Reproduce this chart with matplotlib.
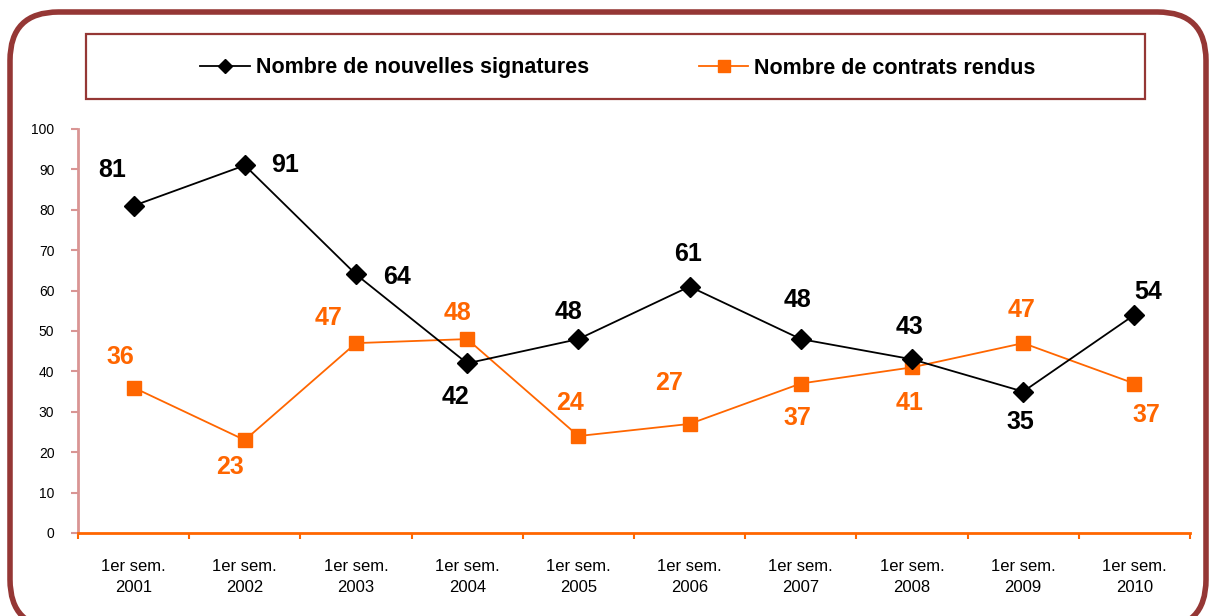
import matplotlib.pyplot as plt
import matplotlib.patches as patches
from matplotlib.lines import Line2D
import numpy as np

plt.rcParams['font.family'] = ['Liberation Sans', 'DejaVu Sans']

years = ['2001', '2002', '2003', '2004', '2005', '2006', '2007', '2008', '2009', '2010']
labels = ['1er sem.\n' + y for y in years]
signatures = [81, 91, 64, 42, 48, 61, 48, 43, 35, 54]
contrats = [36, 23, 47, 48, 24, 27, 37, 41, 47, 37]

# label offsets in pixels (dx, dy) relative to each point
sig_off = [(-21, 36), (40, 0), (41, -3), (-12, -34), (-10, 27),
           (-2, 33), (-3, 39), (-2, 32), (-3, -30), (14, 23)]
con_off = [(-13, 31), (-15, -27), (-27, 25), (-10, 26), (-8, 33),
           (-21, 41), (-3, -34), (-2, -36), (-2, 33), (12, -31)]

black = '#000000'
orange = '#FF6600'
frame_red = '#953735'

fig = plt.figure(figsize=(12.1, 6.16), dpi=100)
W, H = 1210, 616

# outer rounded frame
frame = patches.FancyBboxPatch((10 / W, -12 / H), 1196 / W, 616 / H,
                               boxstyle='round,pad=0,rounding_size=0.04',
                               transform=fig.transFigure, fill=False,
                               edgecolor=frame_red, lw=4, mutation_aspect=W / H)
fig.patches.append(frame)

# legend box
lbox = patches.Rectangle((86 / W, 1 - 99 / H), (1145 - 86) / W, 65 / H,
                         transform=fig.transFigure, fill=False,
                         edgecolor=frame_red, lw=1.6)
fig.patches.append(lbox)

ax = fig.add_axes([78 / W, 1 - 533 / H, (1190 - 78) / W, (533 - 129) / H])
x = np.arange(len(years))
ax.plot(x, signatures, color=black, lw=1.3, marker='D', ms=10, zorder=3)
ax.plot(x, contrats, color=orange, lw=1.3, marker='s', ms=10, zorder=2)

for i, v in enumerate(signatures):
    ax.annotate(str(v), (x[i], v), xytext=sig_off[i], textcoords='offset pixels',
                ha='center', va='center', fontsize=18, fontweight='bold', color=black)
for i, v in enumerate(contrats):
    ax.annotate(str(v), (x[i], v), xytext=con_off[i], textcoords='offset pixels',
                ha='center', va='center', fontsize=18, fontweight='bold', color=orange)

ax.set_xlim(-0.5, len(years) - 0.5)
ax.set_ylim(0, 100)
ax.set_yticks(np.arange(0, 101, 10))
ax.tick_params(axis='y', colors='#D99594', labelcolor='black', labelsize=10,
               length=5, width=1.5, direction='out', pad=12)
ax.set_xticks(x)
ax.set_xticklabels(labels, fontsize=12, linespacing=1.5)
ax.set_xticks(np.arange(-0.5, len(years)), minor=True)
ax.tick_params(axis='x', which='major', length=0, pad=19)
ax.tick_params(axis='x', which='minor', length=4, width=1.5, color=orange,
               direction='out')
for s in ['top', 'right']:
    ax.spines[s].set_visible(False)
ax.spines['left'].set_color('#D99594')
ax.spines['left'].set_linewidth(2)
ax.spines['bottom'].set_color(orange)
ax.spines['bottom'].set_linewidth(2)

handles = [Line2D([], [], color=black, lw=1.3, marker='D', ms=7),
           Line2D([], [], color=orange, lw=1.3, marker='s', ms=9)]
fig.legend(handles, ['Nombre de nouvelles signatures', 'Nombre de contrats rendus'],
           loc='center', bbox_to_anchor=(618 / W, 1 - 68 / H), ncol=2, frameon=False,
           prop={'size': 15.5, 'weight': 'bold'}, handlelength=2.3, columnspacing=5.1,
           handletextpad=0.28)

plt.savefig('out.png', dpi=100)
